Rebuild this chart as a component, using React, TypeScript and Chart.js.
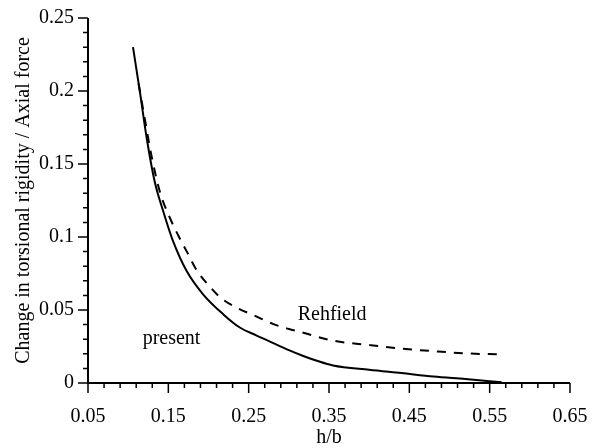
import React, { useEffect, useRef } from "react";
import { Chart, registerables } from "chart.js";
Chart.register(...registerables);

const presentX = [0.106, 0.115, 0.123, 0.133, 0.144, 0.156, 0.173, 0.1935, 0.2185, 0.239, 0.26, 0.28, 0.30, 0.318, 0.335, 0.355, 0.40, 0.44, 0.48, 0.52, 0.565];
const presentY = [0.230, 0.198, 0.168, 0.138, 0.117, 0.097, 0.0765, 0.0606, 0.047, 0.038, 0.0325, 0.0275, 0.0225, 0.0185, 0.0152, 0.012, 0.009, 0.0068, 0.0045, 0.0027, 0.0005];

const rehfieldX = [0.113, 0.12, 0.13, 0.14, 0.152, 0.1624, 0.173, 0.185, 0.20, 0.216, 0.235, 0.258, 0.28, 0.30, 0.314, 0.355, 0.40, 0.44, 0.48, 0.52, 0.563];
const rehfieldY = [0.205, 0.183, 0.153, 0.130, 0.113, 0.101, 0.090, 0.0775, 0.067, 0.058, 0.0516, 0.046, 0.0405, 0.037, 0.035, 0.029, 0.026, 0.0236, 0.0218, 0.0203, 0.0196];

const xTickValues = [0.05, 0.15, 0.25, 0.35, 0.45, 0.55, 0.65];
const xTickLabels = ["0.05", "0.15", "0.25", "0.35", "0.45", "0.55", "0.65"];
const yTickValues = [0, 0.05, 0.1, 0.15, 0.2, 0.25];
const yTickLabels = ["0", "0.05", "0.1", "0.15", "0.2", "0.25"];

const xTitle = "h/b";
const yTitle = "Change in torsional rigidity / Axial force";
const labelPresent = { text: "present", x: 0.118, y: 0.030 };
const labelRehfield = { text: "Rehfield", x: 0.311, y: 0.047 };

const FONT = "'Liberation Serif', 'Times New Roman', serif";

const axesPlugin = {
  id: "axesPlugin",
  afterDraw(chart: any) {
    const ctx = chart.ctx;
    const xs = chart.scales.x;
    const ys = chart.scales.y;
    const { left, right, top, bottom } = chart.chartArea;
    ctx.save();
    ctx.strokeStyle = "#000";
    ctx.lineWidth = 2;
    ctx.beginPath();
    ctx.moveTo(left, top);
    ctx.lineTo(left, bottom);
    ctx.lineTo(right, bottom);
    ctx.stroke();
    ctx.lineWidth = 1.5;
    ctx.beginPath();
    for (let i = 0; i <= 30; i++) {
      const v = 0.05 + i * 0.02;
      const px = xs.getPixelForValue(v);
      ctx.moveTo(px, bottom);
      ctx.lineTo(px, bottom + 5);
    }
    xTickValues.forEach((v) => {
      const px = xs.getPixelForValue(v);
      ctx.moveTo(px, bottom);
      ctx.lineTo(px, bottom + 10);
    });
    for (let i = 0; i <= 25; i++) {
      const v = i * 0.01;
      const py = ys.getPixelForValue(v);
      ctx.moveTo(left, py);
      ctx.lineTo(left - 5, py);
    }
    yTickValues.forEach((v) => {
      const py = ys.getPixelForValue(v);
      ctx.moveTo(left, py);
      ctx.lineTo(left - 10, py);
    });
    ctx.stroke();
    ctx.fillStyle = "#000";
    ctx.font = `20px ${FONT}`;
    ctx.textAlign = "left";
    ctx.textBaseline = "middle";
    [labelPresent, labelRehfield].forEach((l) => {
      ctx.fillText(l.text, xs.getPixelForValue(l.x), ys.getPixelForValue(l.y));
    });
    ctx.restore();
  },
};

export default function App() {
  const ref = useRef<HTMLCanvasElement>(null);
  useEffect(() => {
    document.body.style.margin = "0";
    const chart = new Chart(ref.current!, {
      type: "line",
      data: {
        datasets: [
          {
            label: "present",
            data: presentX.map((x, i) => ({ x, y: presentY[i] })),
            borderColor: "#000",
            borderWidth: 2,
            pointRadius: 0,
            cubicInterpolationMode: "monotone",
            fill: false,
          },
          {
            label: "Rehfield",
            data: rehfieldX.map((x, i) => ({ x, y: rehfieldY[i] })),
            borderColor: "#000",
            borderWidth: 2,
            borderDash: [9, 8],
            pointRadius: 0,
            cubicInterpolationMode: "monotone",
            fill: false,
          },
        ],
      },
      options: {
        animation: false,
        responsive: false,
        layout: { padding: { top: 13, right: 33, left: 0, bottom: 0 } },
        plugins: { legend: { display: false }, tooltip: { enabled: false } },
        scales: {
          x: {
            type: "linear",
            min: 0.05,
            max: 0.65,
            grid: { display: false },
            border: { display: false },
            afterBuildTicks: (s: any) => {
              s.ticks = xTickValues.map((v) => ({ value: v }));
            },
            afterFit: (s: any) => {
              s.height = 65;
            },
            ticks: {
              color: "#000",
              font: { family: FONT, size: 20 },
              padding: 14,
              maxRotation: 0,
              autoSkip: false,
              callback: (v: any) => {
                const i = xTickValues.findIndex((t) => Math.abs(t - v) < 1e-9);
                return i >= 0 ? xTickLabels[i] : "";
              },
            },
            title: {
              display: true,
              text: xTitle,
              color: "#000",
              font: { family: FONT, size: 20, lineHeight: 1 },
              padding: { top: 0, bottom: 0 },
            },
          },
          y: {
            type: "linear",
            min: 0,
            max: 0.25,
            grid: { display: false },
            border: { display: false },
            afterBuildTicks: (s: any) => {
              s.ticks = yTickValues.map((v) => ({ value: v }));
            },
            afterFit: (s: any) => {
              s.width = 88;
            },
            ticks: {
              color: "#000",
              font: { family: FONT, size: 20 },
              padding: 6,
              autoSkip: false,
              callback: (v: any) => {
                const i = yTickValues.findIndex((t) => Math.abs(t - v) < 1e-9);
                return i >= 0 ? yTickLabels[i] : "";
              },
            },
            title: {
              display: true,
              text: yTitle,
              color: "#000",
              font: { family: FONT, size: 20 },
              padding: { top: 12, bottom: 0 },
            },
          },
        },
      },
      plugins: [axesPlugin],
    });
    return () => chart.destroy();
  }, []);
  return (
    <div style={{ position: "absolute", left: 0, top: 0, width: 603, height: 448, background: "#fff" }}>
      <canvas ref={ref} width={603} height={448} />
    </div>
  );
}
